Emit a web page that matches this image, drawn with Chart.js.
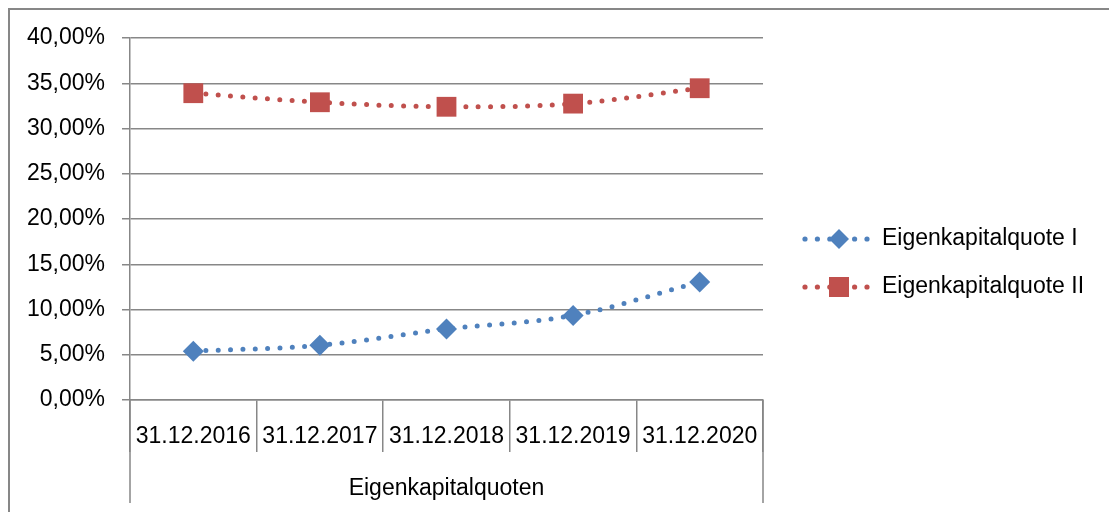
<!DOCTYPE html>
<html>
<head>
<meta charset="utf-8">
<script src="https://cdn.jsdelivr.net/npm/chart.js@4.4.1/dist/chart.umd.min.js"></script>
<style>
    html, body { margin: 0; padding: 0; background: #fff; }
</style>
</head>
<body>
<canvas id="lineChartQuoten" width="1109" height="512"></canvas>
<script>
'use strict';

var categories = ['31.12.2016', '31.12.2017', '31.12.2018', '31.12.2019', '31.12.2020'];
var quoteOne = [5.4, 6.05, 7.85, 9.35, 13.05];
var quoteTwo = [33.9, 32.9, 32.4, 32.75, 34.45];
var seriesNames = ['Eigenkapitalquote I', 'Eigenkapitalquote II'];
var groupLabel = 'Eigenkapitalquoten';

var blue = '#4F81BD',
    red = '#C0504D',
    gridColor = '#878787',
    fontFamily = "'Liberation Sans', Arial, sans-serif";

Chart.defaults.font.family = fontFamily;
Chart.defaults.font.size = 23;
Chart.defaults.color = '#000';

// little dotted line with the marker in the middle, like the excel legend
function legendSample(color, shape) {
    var c = document.createElement('canvas');
    c.width = 82;
    c.height = 24;
    var ctx = c.getContext('2d');
    ctx.fillStyle = color;
    for (var i = 0; i < 6; i++) {
        ctx.beginPath();
        ctx.arc(14 + i * 12.4, 12, 2.6, 0, Math.PI * 2);
        ctx.fill();
    }
    ctx.beginPath();
    if (shape === 'diamond') {
        ctx.moveTo(48, 2);
        ctx.lineTo(58, 12);
        ctx.lineTo(48, 22);
        ctx.lineTo(38, 12);
    } else {
        ctx.rect(38, 2, 20, 20);
    }
    ctx.closePath();
    ctx.fill();
    return c;
}

var samples = [legendSample(blue, 'diamond'), legendSample(red, 'square')];

// excel style legend on the right (the built-in one gets squeezed to half width)
var sideLegend = {
    id: 'sideLegend',
    afterDraw: function (chart) {
        var ctx = chart.ctx,
            area = chart.chartArea;
        ctx.save();
        ctx.font = '23px ' + fontFamily;
        ctx.fillStyle = '#000';
        ctx.textBaseline = 'middle';
        ctx.textAlign = 'left';
        chart.data.datasets.forEach(function (ds, i) {
            var y = area.top + 201 + i * 48;
            ctx.drawImage(samples[i], area.right + 28, y - 12);
            ctx.fillText(ds.label, area.right + 119, y);
        });
        ctx.restore();
    }
};

var framePlugin = {
    id: 'frame',
    afterDraw: function (chart) {
        var ctx = chart.ctx,
            area = chart.chartArea;
        ctx.save();
        ctx.strokeStyle = gridColor;
        ctx.lineWidth = 2;
        ctx.beginPath();
        ctx.moveTo(9, chart.height);
        ctx.lineTo(9, 9);
        ctx.lineTo(chart.width, 9);
        ctx.stroke();
        // outer dividers of the grouped category axis
        ctx.lineWidth = 1.5;
        ctx.beginPath();
        ctx.moveTo(area.left, area.bottom);
        ctx.lineTo(area.left, chart.height - 9);
        ctx.moveTo(area.right, area.bottom);
        ctx.lineTo(area.right, chart.height - 9);
        ctx.stroke();
        ctx.restore();
    }
};

var lineChartQuoten = new Chart(document.getElementById('lineChartQuoten'), {
    type: 'line',
    data: {
        labels: categories,
        datasets: [
            {
                label: seriesNames[0],
                data: quoteOne,
                borderColor: blue,
                backgroundColor: blue,
                borderWidth: 5,
                borderDash: [0, 12.4],
                borderCapStyle: 'round',
                tension: 0.35,
                fill: false,
                pointStyle: 'rectRot',
                pointRadius: 10.5,
                pointHoverRadius: 10.5,
                pointBorderWidth: 0,
                pointBackgroundColor: blue
            },
            {
                label: seriesNames[1],
                data: quoteTwo,
                borderColor: red,
                backgroundColor: red,
                borderWidth: 5,
                borderDash: [0, 12.4],
                borderCapStyle: 'round',
                tension: 0.35,
                fill: false,
                pointStyle: 'rect',
                pointRadius: 14,
                pointHoverRadius: 14,
                pointBorderWidth: 0,
                pointBackgroundColor: red
            }
        ]
    },
    options: {
        responsive: false,
        animation: false,
        layout: {
            padding: { left: 9, top: 38, right: 346, bottom: 24 }
        },
        plugins: {
            tooltip: { enabled: false },
            legend: { display: false }
        },
        scales: {
            x: {
                offset: true,
                grid: {
                    offset: true,
                    drawOnChartArea: false,
                    tickLength: 52,
                    color: gridColor,
                    lineWidth: 1.5
                },
                border: { color: gridColor, width: 1.5 },
                ticks: {
                    padding: -29,
                    maxRotation: 0,
                    autoSkip: false,
                    color: '#000'
                },
                title: {
                    display: true,
                    text: groupLabel,
                    color: '#000',
                    padding: { top: 0, bottom: -14 }
                },
                afterFit: function (scale) {
                    scale.height = 88;
                }
            },
            y: {
                min: 0,
                max: 40,
                ticks: {
                    stepSize: 5,
                    padding: 17,
                    color: '#000',
                    callback: function (value) {
                        return value.toFixed(2).replace('.', ',') + '%';
                    }
                },
                grid: {
                    color: gridColor,
                    lineWidth: 1.5,
                    tickLength: 8
                },
                border: { color: gridColor, width: 1.5 },
                afterFit: function (scale) {
                    scale.width = 121;
                }
            }
        }
    },
    plugins: [framePlugin, sideLegend]
});
</script>
</body>
</html>
